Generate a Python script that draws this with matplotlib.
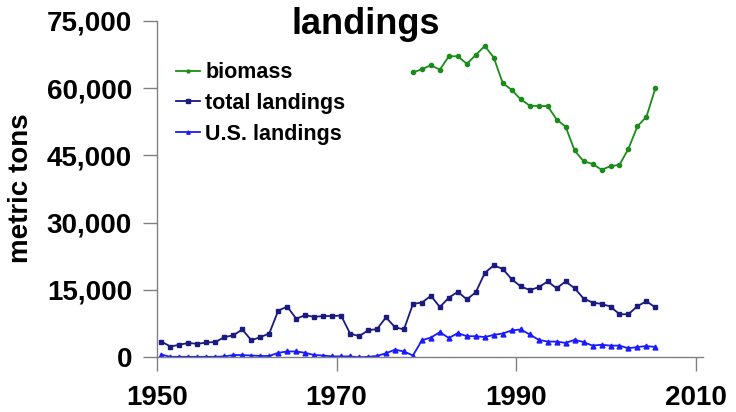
import matplotlib
matplotlib.use("Agg")
import matplotlib.pyplot as plt
import numpy as np

# Years (mid-year plotted)
landing_years = list(range(1950, 2006))
total_landings = [3.5, 2.4, 2.8, 3.2, 3.0, 3.3, 3.4, 4.5, 4.9, 6.2,
                  3.8, 4.5, 5.3, 10.4, 11.3, 8.6, 9.4, 9.0, 9.2, 9.2,
                  9.3, 5.3, 4.7, 6.0, 6.3, 8.9, 6.7, 6.2, 11.9, 12.2,
                  13.7, 11.2, 13.3, 14.6, 12.9, 14.5, 18.8, 20.5, 19.7, 17.4,
                  15.8, 15.0, 15.6, 16.9, 15.4, 16.9, 15.4, 13.1, 12.2, 11.9,
                  11.3, 9.6, 9.6, 11.4, 12.5, 11.1]
us_landings = [0.6, 0.1, 0.1, 0.1, 0.1, 0.1, 0.1, 0.2, 0.5, 0.5,
               0.4, 0.3, 0.3, 1.0, 1.3, 1.3, 1.0, 0.5, 0.4, 0.2,
               0.2, 0.2, 0.0, 0.1, 0.3, 0.9, 1.7, 1.3, 0.4, 3.8,
               4.4, 5.6, 4.3, 5.4, 4.7, 4.7, 4.5, 5.0, 5.3, 6.0,
               6.2, 5.1, 3.9, 3.5, 3.5, 3.2, 3.9, 3.4, 2.6, 2.8,
               2.6, 2.6, 2.0, 2.3, 2.5, 2.3]
biomass_years = list(range(1978, 2006))
biomass = [63.5, 64.2, 65.1, 64.1, 67.1, 67.1, 65.4, 67.4, 69.4, 66.8,
           61.1, 59.6, 57.5, 56.1, 56.0, 56.0, 53.0, 51.4, 46.1, 43.7,
           43.1, 41.8, 42.6, 42.9, 46.5, 51.5, 53.6, 60.0]

y_ticks = [0, 15000, 30000, 45000, 60000, 75000]
x_ticks = [1950, 1970, 1990, 2010]

plt.rcParams['font.family'] = ['Liberation Sans', 'DejaVu Sans']
plt.rcParams['font.weight'] = 'bold'

fig = plt.figure(figsize=(7.36, 4.12), dpi=100)
ax = fig.add_axes([157/736, (412-357.3)/412, (703-157)/736, (357.3-20.8)/412])

lx = np.array(landing_years) + 0.5
bx = np.array(biomass_years) + 0.5
ax.plot(bx, np.array(biomass) * 1000, color='#1a8c1a', lw=1.3, marker='o', ms=3,
        label='biomass')
ax.plot(lx, np.array(total_landings) * 1000, color='#1a1a80', lw=1.3, marker='s', ms=3.5,
        label='total landings')
ax.plot(lx, np.array(us_landings) * 1000, color='#1a1aff', lw=1.3, marker='^', ms=3.5,
        label='U.S. landings')

ax.set_xlim(1950, 2010.8)
ax.set_ylim(0, 75000)
ax.set_yticks(y_ticks)
ax.set_yticklabels([f"{v:,}" for v in y_ticks])
ax.set_xticks(x_ticks)
ax.set_xticklabels([str(v) for v in x_ticks])
ax.tick_params(axis='both', labelsize=20, length=10, width=1, color='#808080', direction='out')
ax.tick_params(axis='y', pad=8)
ax.tick_params(axis='x', pad=10)
for lab in ax.get_xticklabels() + ax.get_yticklabels():
    lab.set_fontweight('bold')
for s in ['top', 'right']:
    ax.spines[s].set_visible(False)
for s in ['left', 'bottom']:
    ax.spines[s].set_color('#808080')
    ax.spines[s].set_linewidth(1)

fig.text(21/736, 1 - 188/412, 'metric tons', rotation=90, ha='center', va='center',
         fontsize=20, fontweight='bold')
fig.text(366/736, 1 - 25/412, 'landings', ha='center', va='center',
         fontsize=26, fontweight='bold')

leg = ax.legend(loc='upper left', bbox_to_anchor=(0.0, 0.935), frameon=False,
                prop={'size': 15.5, 'weight': 'bold'}, handlelength=1.1,
                handletextpad=0.25, labelspacing=0.46, markerscale=0.7)

fig.savefig('out.png', dpi=100)
